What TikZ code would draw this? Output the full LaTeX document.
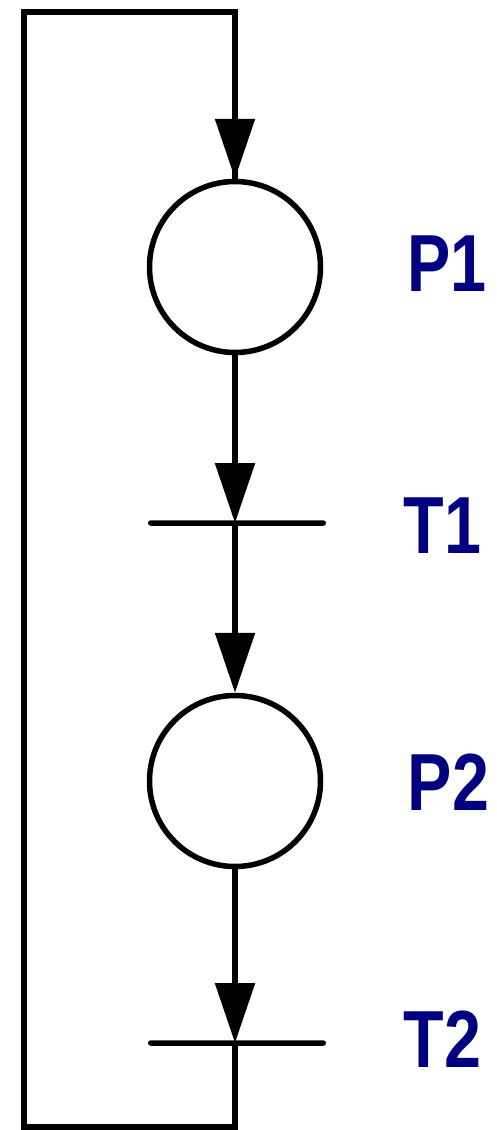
\documentclass[tikz,border=0pt]{standalone}
\usepackage{fontspec}
\setmainfont{Liberation Sans}
\usetikzlibrary{arrows.meta}
\definecolor{navy}{RGB}{0,0,128}
\begin{document}
\begin{tikzpicture}[x=1pt,y=-1pt, line width=5.5pt,
  place/.style={circle, draw, line width=5.5pt, minimum size=171pt, inner sep=0pt},
  trans/.style={fill=black, minimum width=178pt, minimum height=5.5pt, inner sep=0pt, rounded corners=2.7pt},
  arc/.style={line width=5.5pt, -{Triangle[length=60pt,width=39pt]}},
  wire/.style={line width=5.5pt, line join=miter},
  lbl/.style={anchor=base west, inner sep=0pt, text=navy, font=\bfseries\fontsize{81}{81}\selectfont}]
\useasboundingbox (0,0) rectangle (496,1130);
\node[place] (p1) at (235,267) {};
\node[trans] (t1) at (237,523) {};
\node[place] (p2) at (235,781) {};
\node[trans] (t2) at (237,1043) {};
\coordinate (t1c) at (235,523);
\coordinate (t2c) at (235,1043);
\coordinate (c1) at (235,1127);
\coordinate (c2) at (24,1127);
\coordinate (c3) at (24,12);
\coordinate (c4) at (235,12);
\draw[arc] (p1.south) -- (t1c);
\draw[arc] (t1c) -- (p2.north);
\draw[arc] (p2.south) -- (t2c);
\draw[wire] (t2c) -- (c1) -- (c2) -- (c3) -- (c4) -- (c4 |- p1.north);
\draw[arc] (c4) -- (p1.north);
\node[lbl] (lp1) at (405,291) {\scalebox{0.8}[1]{P1}};
\node[lbl] (lt1) at (401,553) {\scalebox{0.82}[1]{T1}};
\node[lbl] (lp2) at (405,810) {\scalebox{0.82}[1]{P2}};
\node[lbl] (lt2) at (401,1067) {\scalebox{0.82}[1]{T2}};
\end{tikzpicture}
\end{document}
